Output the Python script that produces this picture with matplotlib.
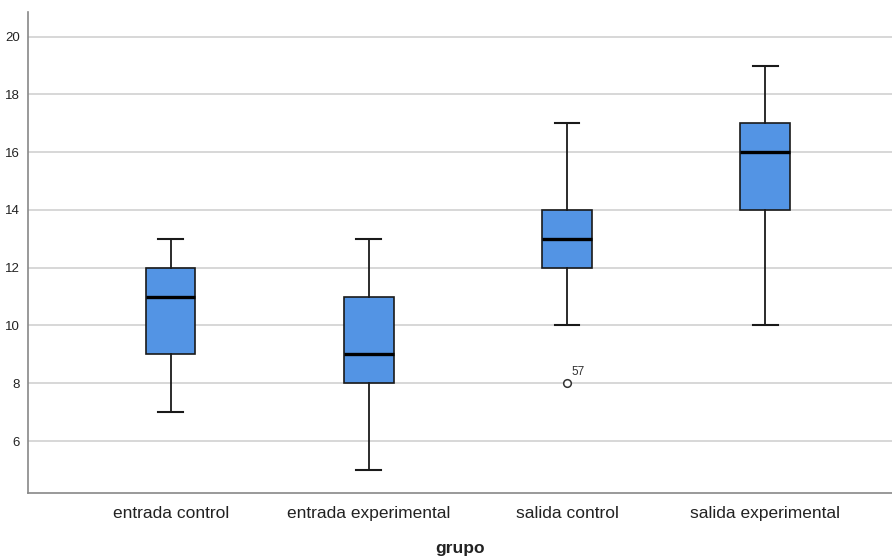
#!/usr/bin/env python3

import matplotlib
matplotlib.use('Agg')
import matplotlib.pyplot as plt

grupos = ['entrada control', 'entrada experimental', 'salida control', 'salida experimental']
whislo = [7, 5, 10, 10]
q1 = [9, 8, 12, 14]
med = [11, 9, 13, 16]
q3 = [12, 11, 14, 17]
whishi = [13, 13, 17, 19]
fliers = [[], [], [8], []]
flier_ids = [[], [], ['57'], []]
yticks = [6, 8, 10, 12, 14, 16, 18, 20]

plt.rcParams['font.family'] = ['Liberation Sans', 'DejaVu Sans']

stats = []
for i in range(len(grupos)):
    stats.append({'label': grupos[i], 'whislo': whislo[i], 'q1': q1[i], 'med': med[i],
                  'q3': q3[i], 'whishi': whishi[i], 'fliers': fliers[i]})

fig = plt.figure(figsize=(8.92, 5.56), dpi=100)
ax = fig.add_axes([0.0314, 0.1133, 0.9686, 0.865])

ax.set_axisbelow(True)
ax.grid(axis='y', color='#d4d4d4', linewidth=1.3)

ax.bxp(stats, positions=range(len(grupos)), widths=0.25, capwidths=0.126,
       patch_artist=True,
       boxprops=dict(facecolor='#5394e4', edgecolor='#1a1a1a', linewidth=1.2),
       medianprops=dict(color='black', linewidth=2.4),
       whiskerprops=dict(color='#1a1a1a', linewidth=1.3),
       capprops=dict(color='#1a1a1a', linewidth=1.5),
       flierprops=dict(marker='o', markersize=5.5, markerfacecolor='white',
                       markeredgecolor='#333333', markeredgewidth=1.1))

for i in range(len(grupos)):
    for v, lab in zip(fliers[i], flier_ids[i]):
        ax.annotate(lab, (i, v), xytext=(3, 6), textcoords='offset points',
                    fontsize=8.5, color='#333333')

ax.set_xlim(-0.72, 3.64)
ax.set_ylim(4.2, 20.85)
ax.set_yticks(yticks)
ax.tick_params(axis='y', length=0, pad=6, labelsize=9.5, labelcolor='#222222')
ax.tick_params(axis='x', length=0, pad=9, labelsize=12.5, labelcolor='#222222')
ax.set_xticks(range(len(grupos)))
ax.set_xticklabels(grupos)

for s in ['top', 'right']:
    ax.spines[s].set_visible(False)
for s in ['left', 'bottom']:
    ax.spines[s].set_color('#888888')
    ax.spines[s].set_linewidth(1.2)

ax.set_xlabel('grupo', fontsize=12.5, fontweight='bold', color='#222222', labelpad=15)

fig.savefig('out.png', dpi=100)
